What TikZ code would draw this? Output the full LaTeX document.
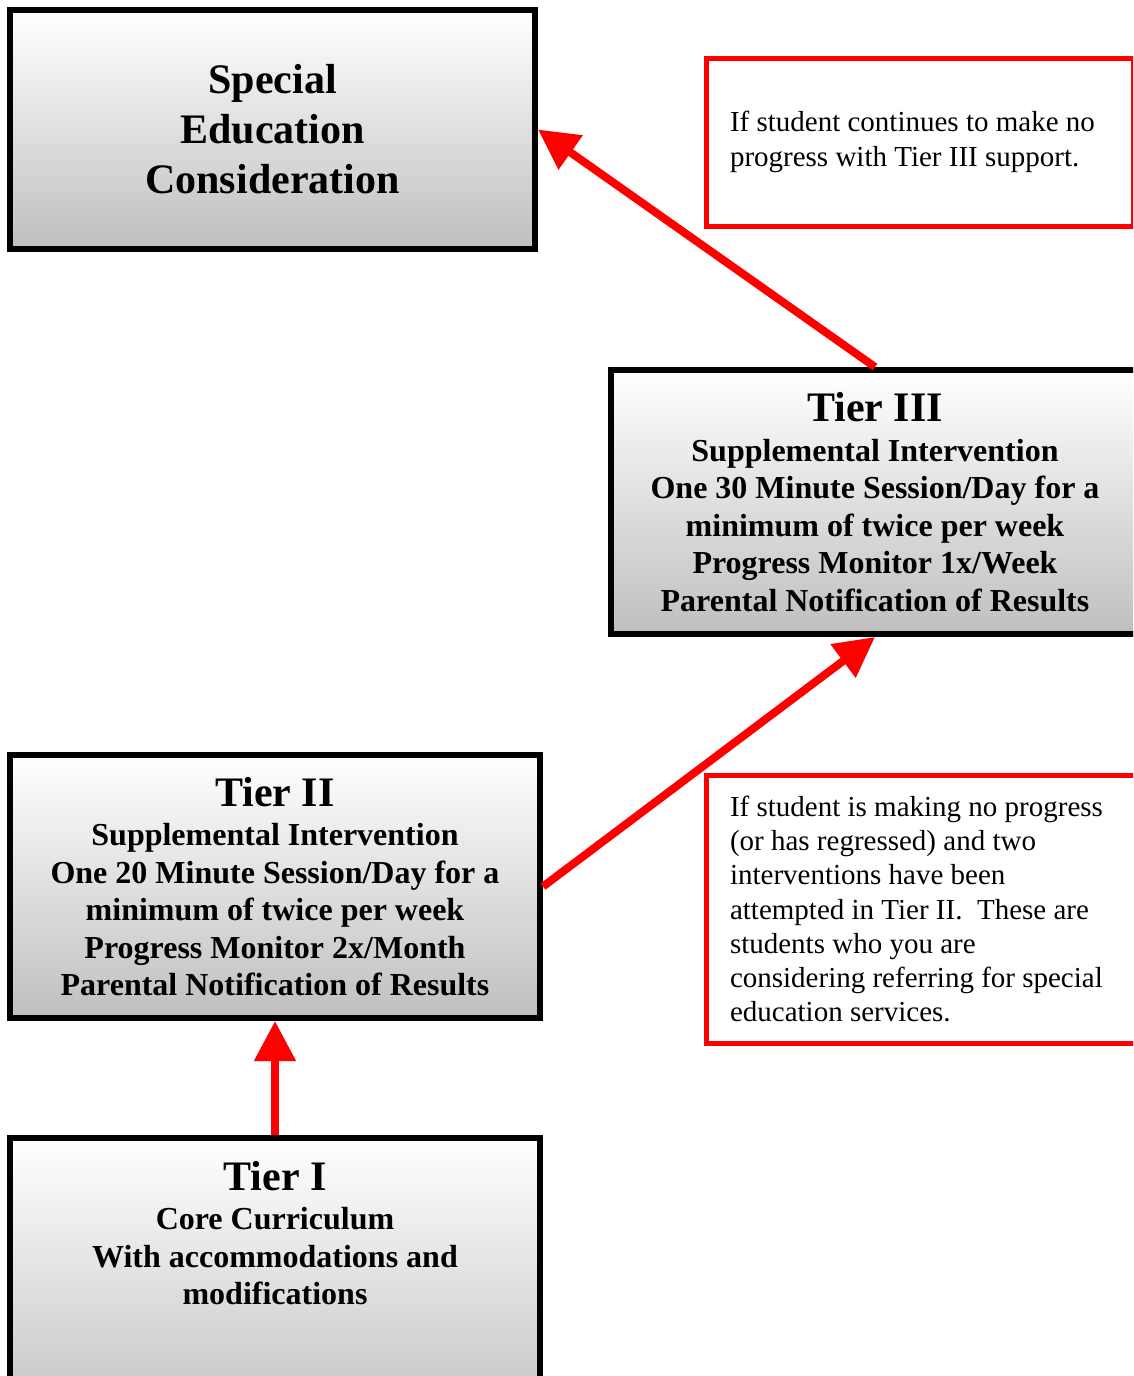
\documentclass[tikz,border=0pt]{standalone}
\usepackage{fontspec}
\setmainfont{Liberation Serif}
\usetikzlibrary{arrows.meta,positioning}

\newcommand{\tierhead}[1]{{\fontsize{42}{42}\selectfont #1}}

\begin{document}
\begin{tikzpicture}[x=1pt, y=-1pt,
   tierbox/.style={draw, rectangle, line width=6pt, top color=white, bottom color=black!25,
                   align=center, font=\bfseries\fontsize{32}{37.5}\selectfont},
   notebox/.style={draw=red, rectangle, line width=5pt, align=flush left, inner xsep=24pt,
                   font=\fontsize{29}{34.3}\selectfont},
   uparrow/.style={draw=red, line width=8pt, -{Triangle[width=40pt, length=40pt]}}]

\path[use as bounding box, clip] (0,0) rectangle (1133,1376);

\node[tierbox, minimum width=525pt, minimum height=239pt,
      font=\bfseries\fontsize{42}{50}\selectfont] (sped) at (272.5,129.5)
    {Special\\Education\\Consideration};

\node[tierbox, minimum width=528pt, minimum height=264pt] (tierthree) at (875,502)
    {\tierhead{Tier III}\\[2pt]
     Supplemental Intervention\\
     One 30 Minute Session/Day for a\\
     minimum of twice per week\\
     Progress Monitor 1x/Week\\
     Parental Notification of Results};

\node[tierbox, minimum width=530pt, minimum height=263pt] (tiertwo) at (275,886.5)
    {\tierhead{Tier II}\\[2pt]
     Supplemental Intervention\\
     One 20 Minute Session/Day for a\\
     minimum of twice per week\\
     Progress Monitor 2x/Month\\
     Parental Notification of Results};

\node[tierbox, minimum width=530pt, minimum height=300pt] (tierone) at (275,1288) {};
\node[align=center, inner sep=0pt, font=\bfseries\fontsize{32}{37.5}\selectfont,
      below=26pt of tierone.north] (tieronetext)
    {\tierhead{Tier I}\\[2pt]
     Core Curriculum\\
     With accommodations and\\
     modifications};

\node[notebox, minimum height=168pt, text width=379pt] (notethree) at (919.5,142)
    {If student continues to make no\\
     progress with Tier III support.};

\node[notebox, minimum height=268pt, text width=396pt] (notetwo) at (928,909)
    {If student is making no progress\\
     (or has regressed) and two\\
     interventions have been\\
     attempted in Tier II.~ These are\\
     students who you are\\
     considering referring for special\\
     education services.};

\draw[uparrow] (tierone.north) -- (tiertwo.south);
\draw[uparrow] (tiertwo.east) -- (tierthree.south);
\draw[uparrow] (tierthree.north) -- (sped.east);

\end{tikzpicture}
\end{document}
